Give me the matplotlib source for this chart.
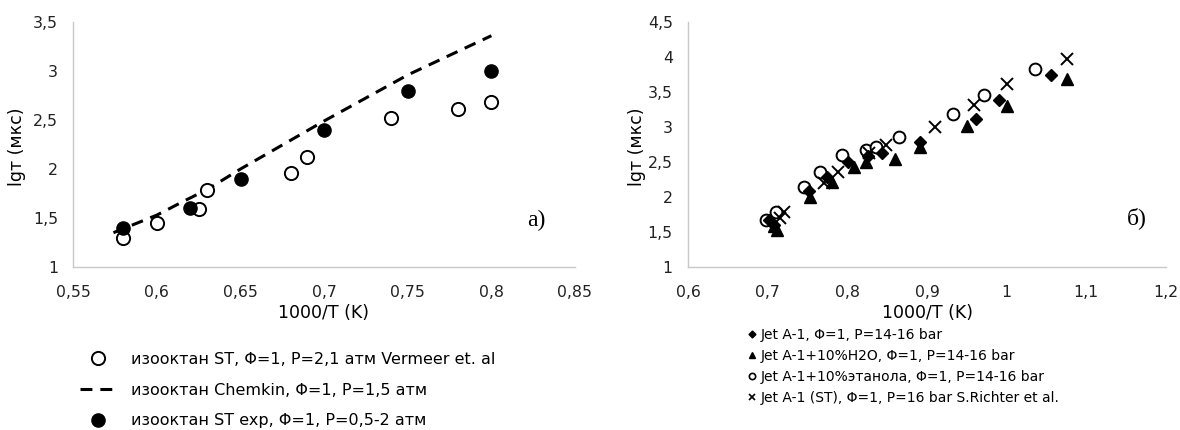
import matplotlib.pyplot as plt
from matplotlib.ticker import FuncFormatter, MultipleLocator

plt.rcParams["font.family"] = ["DejaVu Sans"]

# panel a) - isooctane
iso_st_x = [0.58, 0.60, 0.625, 0.63, 0.68, 0.69, 0.74, 0.78, 0.80]
iso_st_y = [1.30, 1.45, 1.59, 1.79, 1.96, 2.12, 2.52, 2.61, 2.68]

chemkin_x = [0.574, 0.60, 0.617, 0.63, 0.65, 0.70, 0.75, 0.80]
chemkin_y = [1.35, 1.53, 1.68, 1.79, 2.00, 2.49, 2.96, 3.36]

iso_exp_x = [0.58, 0.62, 0.65, 0.70, 0.75, 0.80]
iso_exp_y = [1.40, 1.60, 1.90, 2.40, 2.80, 3.00]

# panel б) - Jet A-1
jet_x = [0.702, 0.708, 0.752, 0.774, 0.801, 0.826, 0.844, 0.891, 0.961, 0.99, 1.056]
jet_y = [1.67, 1.60, 2.08, 2.29, 2.50, 2.58, 2.63, 2.78, 3.11, 3.39, 3.75]

h2o_x = [0.708, 0.712, 0.753, 0.781, 0.808, 0.823, 0.86, 0.891, 0.95, 1.0, 1.076]
h2o_y = [1.58, 1.53, 2.00, 2.22, 2.43, 2.50, 2.55, 2.71, 3.02, 3.30, 3.68]

eth_x = [0.698, 0.71, 0.746, 0.766, 0.793, 0.823, 0.836, 0.865, 0.933, 0.971, 1.036]
eth_y = [1.67, 1.79, 2.14, 2.36, 2.60, 2.67, 2.71, 2.86, 3.19, 3.46, 3.83]

st_x = [0.715, 0.721, 0.771, 0.788, 0.827, 0.849, 0.91, 0.959, 1.0, 1.076]
st_y = [1.70, 1.79, 2.20, 2.36, 2.63, 2.74, 3.00, 3.31, 3.61, 3.97]


def comma(x, pos):
    return f"{x:g}".replace(".", ",")


W, H = 1180, 430
fig = plt.figure(figsize=(W / 100, H / 100), dpi=100)

ax1 = fig.add_axes([73.3 / W, 1 - 267 / H, (575 - 73.3) / W, 245 / H])
ax2 = fig.add_axes([688 / W, 1 - 267 / H, (1166 - 688) / W, 245 / H])

for ax in (ax1, ax2):
    for s in ("top", "right"):
        ax.spines[s].set_visible(False)
    for s in ("left", "bottom"):
        ax.spines[s].set_color("#c8c8c8")
        ax.spines[s].set_linewidth(1.0)
    ax.tick_params(length=0, labelsize=11.3, colors="#222222")
    ax.tick_params(axis="x", pad=13)
    ax.tick_params(axis="y", pad=11)
    ax.xaxis.set_major_formatter(FuncFormatter(comma))
    ax.yaxis.set_major_formatter(FuncFormatter(comma))
    ax.yaxis.set_major_locator(MultipleLocator(0.5))

ax1.set_xlim(0.55, 0.85)
ax1.set_ylim(1, 3.5)
ax1.xaxis.set_major_locator(MultipleLocator(0.05))

ax2.set_xlim(0.6, 1.2)
ax2.set_ylim(1, 4.5)
ax2.xaxis.set_major_locator(MultipleLocator(0.1))

l1, = ax1.plot(iso_st_x, iso_st_y, "o", ms=9.5, mfc="white", mec="black", mew=1.4,
               ls="none", label="изооктан ST, Φ=1, P=2,1 атм Vermeer et. al", zorder=3)
l2, = ax1.plot(chemkin_x, chemkin_y, color="black", lw=2.2, dashes=(3.9, 2.6),
               label="изооктан Chemkin, Φ=1, P=1,5 атм", zorder=2)
l3, = ax1.plot(iso_exp_x, iso_exp_y, "o", ms=9.5, color="black", ls="none",
               label="изооктан ST exp, Φ=1, P=0,5-2 атм", zorder=4)

ax2.plot(eth_x, eth_y, "o", ms=8.5, mfc="white", mec="black", mew=1.4, ls="none",
         label="Jet A-1+10%этанола, Φ=1, P=14-16 bar", zorder=2)
ax2.plot(jet_x, jet_y, "D", ms=6.5, color="black", ls="none",
         label="Jet A-1, Φ=1, P=14-16 bar", zorder=3)
ax2.plot(h2o_x, h2o_y, "^", ms=8.5, color="black", ls="none",
         label="Jet A-1+10%H2O, Φ=1, P=14-16 bar", zorder=3)
ax2.plot(st_x, st_y, "x", ms=8.5, color="black", mew=1.4, ls="none",
         label="Jet A-1 (ST), Φ=1, P=16 bar S.Richter et al.", zorder=4)

fig.text(324 / W, 1 - 313 / H, "1000/T (K)", ha="center", va="center", fontsize=12.5)
fig.text(927 / W, 1 - 313 / H, "1000/T (K)", ha="center", va="center", fontsize=12.5)
fig.text(16.7 / W, 1 - 147 / H, "lgт (мкс)", ha="center", va="center",
         rotation=90, fontsize=12.5)
fig.text(636.7 / W, 1 - 147 / H, "lgт (мкс)", ha="center", va="center",
         rotation=90, fontsize=12.5)

fig.text(536 / W, 1 - 220 / H, "а)", ha="center", va="center", fontsize=17,
         family="Liberation Serif")
fig.text(1137 / W, 1 - 218 / H, "б)", ha="center", va="center", fontsize=17,
         family="Liberation Serif")

# left legend
fig.legend(handles=[l1, l2, l3], loc="upper left",
           bbox_to_anchor=(80 / W, 1 - 352 / H), frameon=False, fontsize=11.5,
           handlelength=2.3, handletextpad=0.9, labelspacing=0.98,
           borderpad=0, borderaxespad=0)

# right legend
jet_h, = ax2.plot([], [], "D", ms=3.5, color="black", ls="none")
h2o_h, = ax2.plot([], [], "^", ms=4.5, color="black", ls="none")
eth_h, = ax2.plot([], [], "o", ms=4.5, mfc="white", mec="black", mew=1.2, ls="none")
st_h, = ax2.plot([], [], "x", ms=4, color="black", mew=1.2, ls="none")
fig.legend(handles=[jet_h, h2o_h, eth_h, st_h],
           labels=["Jet A-1, Φ=1, P=14-16 bar",
                   "Jet A-1+10%H2O, Φ=1, P=14-16 bar",
                   "Jet A-1+10%этанола, Φ=1, P=14-16 bar",
                   "Jet A-1 (ST), Φ=1, P=16 bar S.Richter et al."],
           loc="upper left", bbox_to_anchor=(748 / W, 1 - 328 / H), frameon=False,
           fontsize=10, handlelength=0.6, handletextpad=0.3, labelspacing=0.5,
           borderpad=0, borderaxespad=0)

fig.savefig("out.png", dpi=100)
